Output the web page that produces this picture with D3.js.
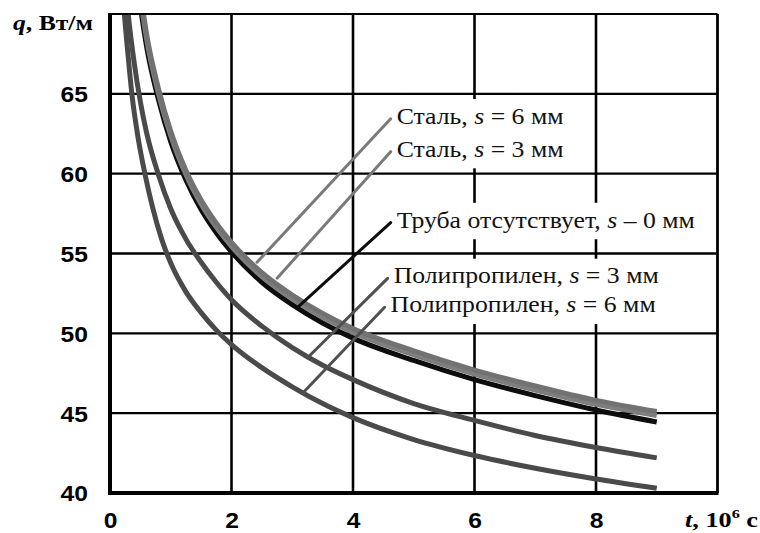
<!DOCTYPE html>
<html><head><meta charset="utf-8">
<script src="https://cdn.jsdelivr.net/npm/d3@7/dist/d3.min.js"></script>
<style>html,body{margin:0;padding:0;background:#fff;}svg{display:block;}</style>
</head><body>
<svg id="c" width="760" height="533"></svg>
<script>
// ---- data ----
const xTicks = [0, 2, 4, 6, 8];
const yTicks = [40, 45, 50, 55, 60, 65];
const seriesNames = ["Сталь, s = 6 мм", "Сталь, s = 3 мм", "Труба отсутствует, s – 0 мм", "Полипропилен, s = 3 мм", "Полипропилен, s = 6 мм"];
const labelPrefix = ["Сталь, ", "Сталь, ", "Труба отсутствует, ", "Полипропилен, ", "Полипропилен, "];
const labelSuffix = [" = 6 мм", " = 3 мм", " – 0 мм", " = 3 мм", " = 6 мм"];

const tBundle = [0.45, 0.5, 0.6, 0.8, 1.0, 1.25, 1.5, 1.75, 2, 2.5, 3, 3.5, 4, 5, 6, 7, 8, 9];
const qSteel6 = [72.9, 71.4, 68.8, 65.3, 62.65, 60.2, 58.35, 56.9, 55.7, 53.8, 52.4, 51.25, 50.3, 48.9, 47.7, 46.7, 45.8, 45.1];
const qSteel3 = [72.6, 71.1, 68.5, 65.0, 62.4, 59.95, 58.1, 56.65, 55.45, 53.55, 52.15, 51.0, 50.05, 48.65, 47.45, 46.45, 45.55, 44.85];
const qNone   = [72.0, 70.5, 68.0, 64.6, 62.0, 59.6, 57.75, 56.3, 55.1, 53.2, 51.8, 50.65, 49.7, 48.3, 47.1, 46.1, 45.2, 44.45];
const tPP3 = [0.28, 0.3, 0.4, 0.5, 0.6, 0.8, 1.0, 1.25, 1.5, 1.75, 2, 2.5, 3, 3.5, 4, 5, 6, 7, 8, 9];
const qPP3 = [70.8, 70.0, 66.9, 64.5, 62.6, 59.9, 57.8, 55.9, 54.45, 53.2, 52.1, 50.45, 49.1, 48.0, 47.1, 45.6, 44.55, 43.6, 42.85, 42.2];
const tPP6 = [0.21, 0.23, 0.3, 0.36, 0.46, 0.58, 0.7, 0.85, 1.0, 1.25, 1.5, 1.75, 2, 2.5, 3, 3.5, 4, 5, 6, 7, 8, 9];
const qPP6 = [71.3, 70.3, 67.3, 65.0, 62.3, 59.9, 57.9, 55.9, 54.4, 52.6, 51.3, 50.2, 49.3, 47.85, 46.65, 45.6, 44.72, 43.35, 42.35, 41.55, 40.88, 40.3];

// leader lines: point on the curve -> label anchor (data units)
const leaderFromT = [2.42, 2.75, 3.11, 3.26, 3.17];
const leaderFromQ = [54.45, 53.45, 51.7, 48.5, 46.25];
const leaderToT = [4.62, 4.62, 4.62, 4.57, 4.52];
const leaderToQ = [63.44, 61.38, 56.94, 53.44, 51.63];

// ---- layout / style ----
const x = d3.scaleLinear().domain([0, 10]).range([110, 717.5]);
const y = d3.scaleLinear().domain([40, 70]).range([493, 14]);
const svg = d3.select("#c");
const SX = 1.12; // horizontal stretch of lettering in the source

const colors = ["#727272", "#7e7e7e", "#0d0d0d", "#4a4a4a", "#4a4a4a"];
const leaderColors = ["#7a7a7a", "#7a7a7a", "#0d0d0d", "#505050", "#505050"];

svg.append("defs").append("clipPath").attr("id", "clip")
  .append("rect").attr("x", x(0)).attr("y", y(70)).attr("width", x(10) - x(0)).attr("height", y(40) - y(70));

// grid
const g = svg.append("g");
g.selectAll(".vg").data(xTicks.filter(d => d > 0)).enter().append("line")
  .attr("x1", d => x(d)).attr("x2", d => x(d)).attr("y1", y(70)).attr("y2", y(40))
  .attr("stroke", "#000").attr("stroke-width", 2.6);
g.selectAll(".hg").data(yTicks.filter(d => d > 40)).enter().append("line")
  .attr("x1", x(0)).attr("x2", x(10)).attr("y1", d => y(d)).attr("y2", d => y(d))
  .attr("stroke", "#000").attr("stroke-width", 2.4);

// curves
const series = [
  {t: tBundle, q: qSteel6}, {t: tBundle, q: qSteel3}, {t: tBundle, q: qNone},
  {t: tPP3, q: qPP3}, {t: tPP6, q: qPP6}
];
const line = d3.line().x(d => x(d[0])).y(d => y(d[1])).curve(d3.curveMonotoneX);
const curves = svg.append("g").attr("clip-path", "url(#clip)");
[4, 3, 2, 1, 0].forEach(i => {
  const pts = series[i].t.map((t, k) => [t, series[i].q[k]]);
  curves.append("path").attr("d", line(pts)).attr("fill", "none")
    .attr("stroke", colors[i]).attr("stroke-width", 5).attr("stroke-linecap", "butt");
});

// label boxes + text
const labG = svg.append("g");
seriesNames.forEach((name, i) => {
  const tx = x(leaderToT[i]) + 6, ty = y(leaderToQ[i]) + 5;
  const gg = labG.append("g").attr("transform", `translate(${tx},${ty}) scale(${SX},1)`);
  const rect = gg.append("rect").attr("fill", "#fff");
  const txt = gg.append("text").attr("x", 0).attr("y", 0)
    .attr("font-family", "Liberation Serif, Times New Roman, serif").attr("font-size", 23).attr("fill", "#111");
  txt.append("tspan").text(labelPrefix[i]);
  txt.append("tspan").attr("font-style", "italic").text("s");
  txt.append("tspan").text(labelSuffix[i]);
  const bb = txt.node().getBBox();
  rect.attr("x", bb.x - 3).attr("y", bb.y - 4).attr("width", bb.width + 6).attr("height", bb.height + 11);
});

// leaders
seriesNames.forEach((name, i) => {
  svg.append("line")
    .attr("x1", x(leaderFromT[i])).attr("y1", y(leaderFromQ[i]))
    .attr("x2", x(leaderToT[i])).attr("y2", y(leaderToQ[i]))
    .attr("stroke", leaderColors[i]).attr("stroke-width", 3).attr("stroke-linecap", "round");
});

// frame
svg.append("line").attr("x1", x(0)).attr("x2", x(10)).attr("y1", y(70)).attr("y2", y(70)).attr("stroke", "#000").attr("stroke-width", 2.2);
svg.append("line").attr("x1", x(10)).attr("x2", x(10)).attr("y1", y(70)).attr("y2", y(40)).attr("stroke", "#000").attr("stroke-width", 2.8);
svg.append("line").attr("x1", x(0)).attr("x2", x(0)).attr("y1", y(70) - 1).attr("y2", y(40) + 2).attr("stroke", "#000").attr("stroke-width", 4);
svg.append("line").attr("x1", x(0) - 2).attr("x2", x(10) + 1).attr("y1", y(40)).attr("y2", y(40)).attr("stroke", "#000").attr("stroke-width", 4);

// axes tick labels via d3 axes (no tick lines)
const yAxis = d3.axisLeft(y).tickValues(yTicks).tickSize(0).tickPadding(0).tickFormat(d3.format("d"));
const ya = svg.append("g").attr("transform", "translate(88,0)").call(yAxis);
ya.select(".domain").remove();
ya.selectAll("text").attr("font-family", "Liberation Sans, Arial, sans-serif").attr("font-weight", "bold")
  .attr("font-size", 22).attr("fill", "#000").attr("dy", "0.36em").attr("x", 0)
  .attr("transform", `scale(${SX},1)`);

const xAxis = d3.axisBottom(x).tickValues(xTicks).tickSize(0).tickPadding(0).tickFormat(d3.format("d"));
const xa = svg.append("g").attr("transform", "translate(0,528)").call(xAxis);
xa.select(".domain").remove();
xa.selectAll("text").attr("font-family", "Liberation Sans, Arial, sans-serif").attr("font-weight", "bold")
  .attr("font-size", 22).attr("fill", "#000").attr("dy", null).attr("y", 0)
  .attr("transform", `scale(${SX},1)`);

// axis titles
function stretchTo(sel, x0, y0, width) {
  const w = sel.node().getComputedTextLength();
  sel.attr("transform", `translate(${x0},${y0}) scale(${width / w},1)`);
}
const qt = svg.append("text")
  .attr("font-family", "Liberation Serif, Times New Roman, serif").attr("font-weight", "bold").attr("font-size", 20).attr("fill", "#000");
qt.append("tspan").attr("font-style", "italic").text("q");
qt.append("tspan").text(", Вт/м");
stretchTo(qt, 13, 30, 80);

const tt = svg.append("text")
  .attr("font-family", "Liberation Serif, Times New Roman, serif").attr("font-weight", "bold").attr("font-size", 21).attr("fill", "#000");
tt.append("tspan").attr("font-style", "italic").text("t");
tt.append("tspan").text(", 10");
tt.append("tspan").attr("font-size", 13).attr("dy", -9).text("6");
tt.append("tspan").attr("dy", 9).text(" с");
stretchTo(tt, 685, 527, 73);
</script>
</body></html>
